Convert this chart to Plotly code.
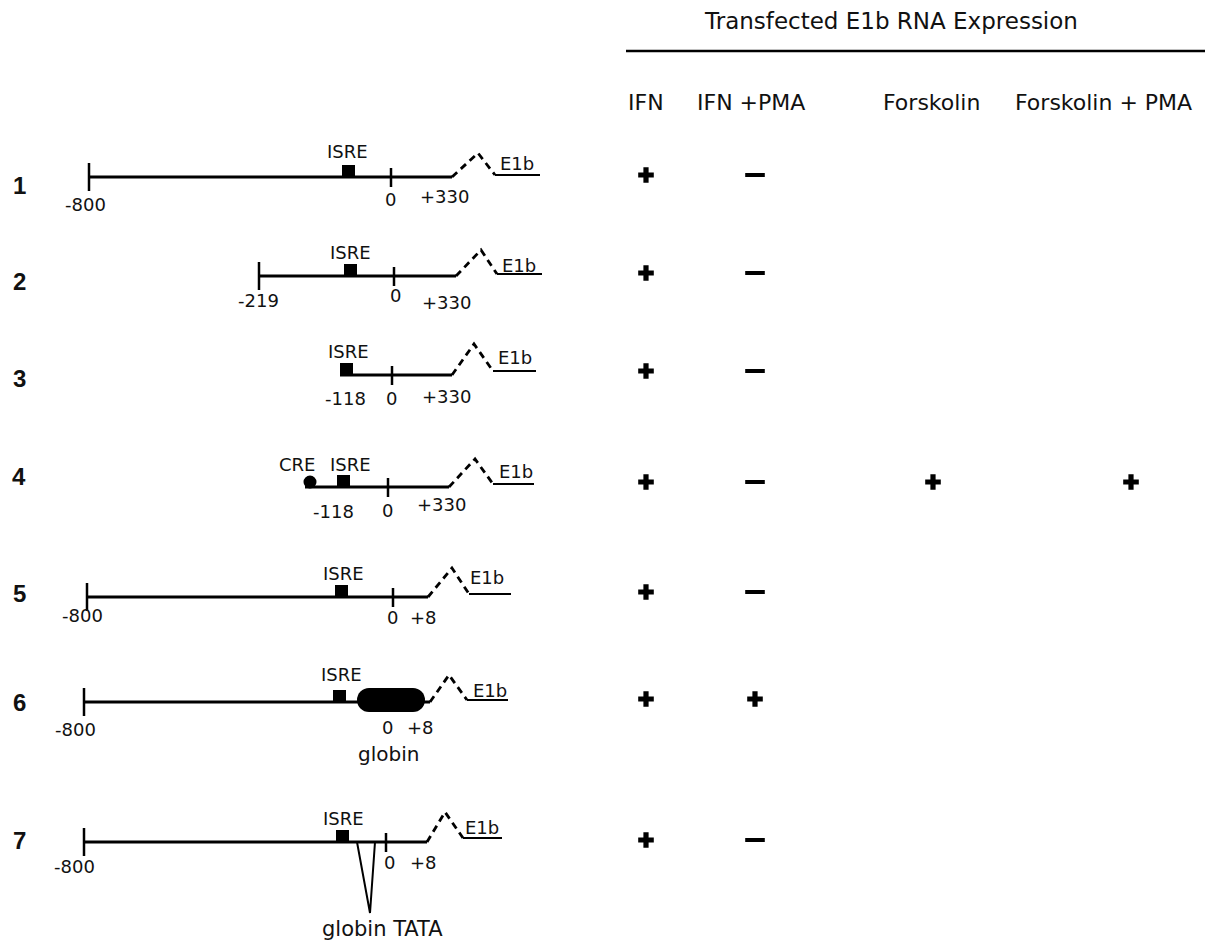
import plotly.graph_objects as go

# ---------------- data ----------------
ROW_NUMBERS = ["1", "2", "3", "4", "5", "6", "7"]
START_LABELS = ["-800", "-219", "-118", "-118", "-800", "-800", "-800"]
END_LABELS = ["+330", "+330", "+330", "+330", "+8", "+8", "+8"]
ZERO_LABEL = "0"
ELEMENT_LABEL = "ISRE"
CRE_LABEL = "CRE"
GENE_LABEL = "E1b"
HAS_CRE = [False, False, False, True, False, False, False]
GLOBIN_INSERT = ["", "", "", "", "", "globin", "globin TATA"]

TITLE = "Transfected E1b RNA Expression"
COLUMNS = ["IFN", "IFN +PMA", "Forskolin", "Forskolin + PMA"]
IFN = ["+", "+", "+", "+", "+", "+", "+"]
IFN_PMA = ["-", "-", "-", "-", "-", "+", "-"]
FORSKOLIN = ["", "", "", "+", "", "", ""]
FORSKOLIN_PMA = ["", "", "", "+", "", "", ""]
RESULTS = [IFN, IFN_PMA, FORSKOLIN, FORSKOLIN_PMA]

# ---------------- layout geometry (pixel-like diagram units) ----------------
W, H = 1205, 941
ROW_Y = [177, 276, 375, 487, 597, 702, 842]
ROW_NUM_Y = [185, 281, 378, 476, 593, 702, 840]
LEFT_X = [89, 259, 340, 305, 87, 84, 84]
LEFT_TICK = [True, True, False, False, True, True, True]
ISRE_X = [342, 344, 340, 337, 335, 333, 336]
ZERO_X = [391, 394, 392, 388, 393, None, 386]
HUMP_START = [452, 456, 452, 449, 428, 430, 427]
PEAK_X = [478, 481, 474, 475, 452, 449, 445]
PEAK_Y = [153, 250, 344, 459, 568, 675, 812]
HUMP_END = [495, 497, 493, 493, 469, 467, 463]
TAIL_Y = [175, 274, 371, 484, 594, 700, 838]
END_X = [540, 542, 536, 534, 511, 508, 502]

START_POS = [(85, 204), (258, 300), (345, 398), (333, 511), (82, 615), (75, 729), (74, 866)]
ZERO_POS = [(390, 199), (395, 295), (391, 398), (387, 510), (392, 617), (387, 727), (389, 862)]
END_POS = [(444, 196), (446, 302), (446, 396), (441, 504), (423, 617), (420, 727), (423, 862)]
ISRE_POS = [(347, 151), (350, 252), (348, 351), (350, 464), (343, 573), (341, 674), (343, 818)]
E1B_POS = [(517, 163), (519, 265), (515, 357), (516, 471), (487, 577), (490, 690), (482, 827)]
CRE_POS = (297, 464)
CRE_CIRCLE = (310, 482, 6.5)
GLOBIN_BOX = (357, 425, 700, 12)
GLOBIN_POS = [(388, 754), (382, 929)]
TATA_V = ([357, 370, 375], [842, 913, 842])

TITLE_POS = (891, 21)
RULE_Y = 51
RULE_X = (626, 1205)
HEADER_Y = 102
HEADER_X = [646, 751, 931, 1103]
MARK_X = [646, 755, 933, 1131]
MARK_Y = [175, 273, 371, 482, 592, 699, 840]

FONT = "DejaVu Sans"
BLACK = "#000000"
TEXT = "#111111"

fig = go.Figure()
shapes = []
ann = []


def label(x, y, text, size=18, bold=False, family=FONT):
    ann.append(dict(x=x, y=y, xref="x", yref="y", text=f"<b>{text}</b>" if bold else text,
                    showarrow=False, xanchor="center", yanchor="middle",
                    font=dict(family=family, size=size, color=TEXT)))


def seg(x0, y0, x1, y1, w=3):
    shapes.append(dict(type="line", xref="x", yref="y", x0=x0, y0=y0, x1=x1, y1=y1,
                       line=dict(color=BLACK, width=w)))


for i in range(len(ROW_NUMBERS)):
    y = ROW_Y[i]
    # backbone
    seg(LEFT_X[i], y, HUMP_START[i], y, 3)
    if LEFT_TICK[i]:
        seg(LEFT_X[i], y - 14, LEFT_X[i], y + 14, 2.5)
    if ZERO_X[i] is not None:
        seg(ZERO_X[i], y - 9, ZERO_X[i], y + 10, 2.5)
    # ISRE box
    shapes.append(dict(type="rect", xref="x", yref="y", x0=ISRE_X[i], x1=ISRE_X[i] + 13,
                       y0=y - 12, y1=y, fillcolor=BLACK, line=dict(width=0)))
    # intron hump (dashed)
    fig.add_trace(go.Scatter(x=[HUMP_START[i], PEAK_X[i], HUMP_END[i]],
                             y=[y, PEAK_Y[i], TAIL_Y[i]], mode="lines",
                             line=dict(color=BLACK, width=2.8, dash="7px,5px"),
                             hoverinfo="skip"))
    # E1b tail
    seg(HUMP_END[i], TAIL_Y[i], END_X[i], TAIL_Y[i], 2)
    # CRE
    if HAS_CRE[i]:
        cx, cy, r = CRE_CIRCLE
        shapes.append(dict(type="circle", xref="x", yref="y", x0=cx - r, x1=cx + r,
                           y0=cy - r, y1=cy + r, fillcolor=BLACK, line=dict(width=0)))
        label(CRE_POS[0], CRE_POS[1], CRE_LABEL)
    # globin inserts
    if GLOBIN_INSERT[i] == "globin":
        gx0, gx1, gy, gr = GLOBIN_BOX
        shapes.append(dict(type="rect", xref="x", yref="y", x0=gx0 + gr, x1=gx1 - gr,
                           y0=gy - gr, y1=gy + gr, fillcolor=BLACK, line=dict(width=0)))
        for cx in (gx0 + gr, gx1 - gr):
            shapes.append(dict(type="circle", xref="x", yref="y", x0=cx - gr, x1=cx + gr,
                               y0=gy - gr, y1=gy + gr, fillcolor=BLACK, line=dict(width=0)))
        label(GLOBIN_POS[0][0], GLOBIN_POS[0][1], GLOBIN_INSERT[i], size=20)
    elif GLOBIN_INSERT[i]:
        fig.add_trace(go.Scatter(x=TATA_V[0], y=TATA_V[1], mode="lines",
                                 line=dict(color=BLACK, width=2), hoverinfo="skip"))
        label(GLOBIN_POS[1][0], GLOBIN_POS[1][1], GLOBIN_INSERT[i], size=21)
    # labels
    label(19, ROW_NUM_Y[i], ROW_NUMBERS[i], size=24, bold=True, family="Liberation Sans")
    label(*START_POS[i], START_LABELS[i])
    label(*ZERO_POS[i], ZERO_LABEL)
    label(*END_POS[i], END_LABELS[i])
    label(*ISRE_POS[i], ELEMENT_LABEL)
    label(*E1B_POS[i], GENE_LABEL)

# right panel
label(TITLE_POS[0], TITLE_POS[1], TITLE, size=23)
seg(RULE_X[0], RULE_Y, RULE_X[1], RULE_Y, 2.5)
for j, col in enumerate(COLUMNS):
    label(HEADER_X[j], HEADER_Y, col, size=22)
    px, py, mx, my = [], [], [], []
    for i, v in enumerate(RESULTS[j]):
        if v == "+":
            px.append(MARK_X[j]); py.append(MARK_Y[i])
        elif v == "-":
            mx.append(MARK_X[j]); my.append(MARK_Y[i])
    if px:
        fig.add_trace(go.Scatter(x=px, y=py, mode="markers", hoverinfo="skip",
                                 marker=dict(symbol="cross", size=13, color=BLACK,
                                             line=dict(width=0))))
    if mx:
        fig.add_trace(go.Scatter(x=mx, y=my, mode="markers", hoverinfo="skip",
                                 marker=dict(symbol="line-ew", size=14, color=BLACK,
                                             line=dict(color=BLACK, width=4))))

fig.update_layout(
    width=W, height=H, margin=dict(l=0, r=0, t=0, b=0),
    paper_bgcolor="white", plot_bgcolor="white", showlegend=False,
    xaxis=dict(range=[0, W], visible=False, fixedrange=True),
    yaxis=dict(range=[H, 0], visible=False, fixedrange=True),
    shapes=shapes, annotations=ann,
)

fig.write_html("out.html", config={"displayModeBar": False, "staticPlot": True},
               post_script="document.body.style.margin='0';document.body.style.overflow='hidden';")
